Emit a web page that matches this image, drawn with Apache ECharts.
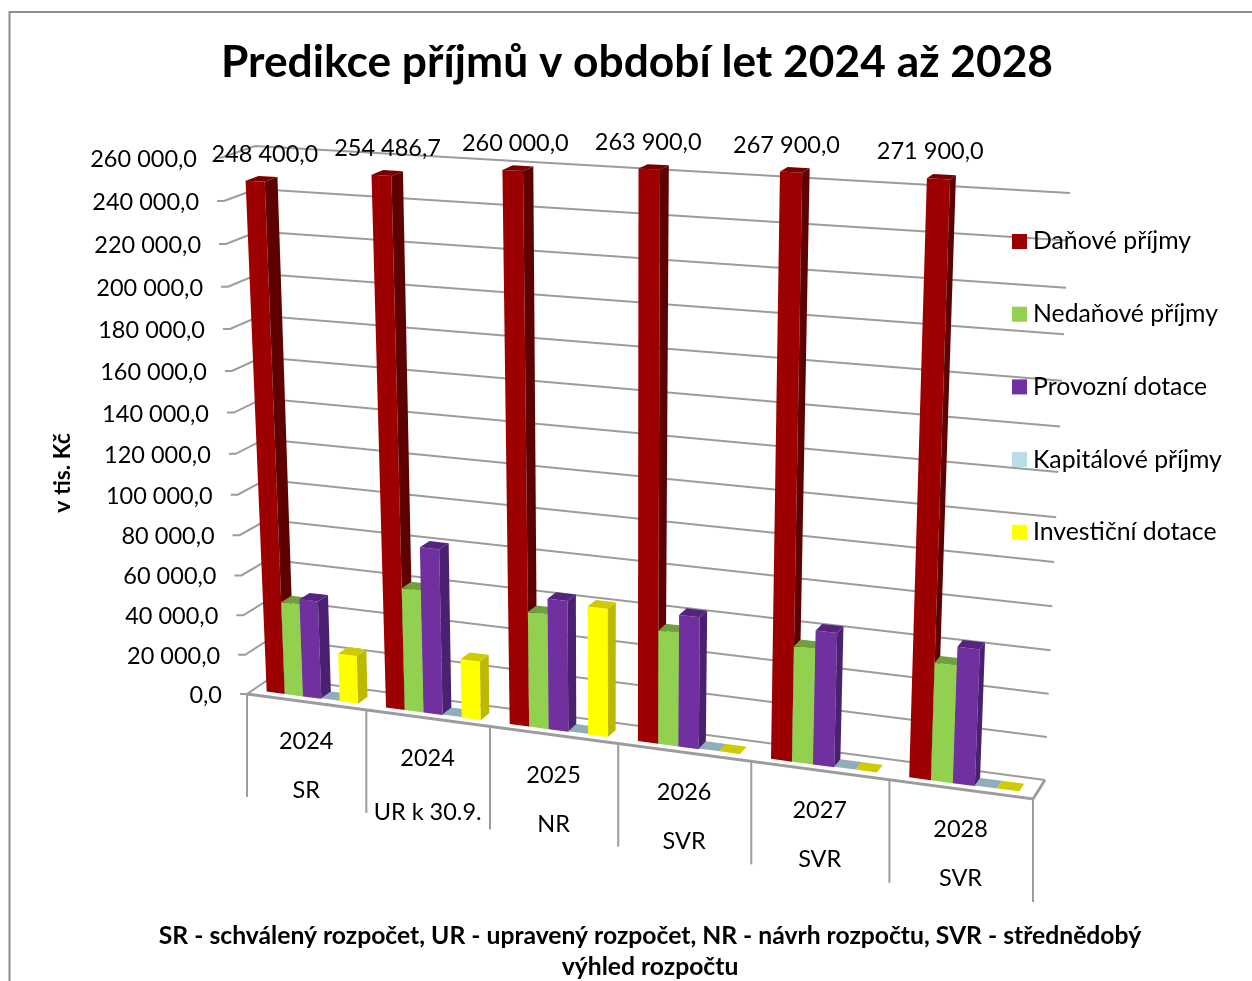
<!DOCTYPE html>
<html>
<head>
<meta charset="utf-8">
<style>
  html, body { margin: 0; padding: 0; background: #fff; }
  #chart { width: 1252px; height: 981px; }
</style>
<script src="https://cdn.jsdelivr.net/npm/echarts@6/dist/echarts.min.js"></script>
</head>
<body>
<div id="chart"></div>
<script>
const categories = ['2024', '2024', '2025', '2026', '2027', '2028']
const stages = ['SR', 'UR k 30.9.', 'NR', 'SVR', 'SVR', 'SVR']
const yTicks = [0, 20000, 40000, 60000, 80000, 100000, 120000, 140000, 160000, 180000, 200000, 220000, 240000, 260000]
const yTickLabels = ['0,0', '20 000,0', '40 000,0', '60 000,0', '80 000,0', '100 000,0', '120 000,0', '140 000,0', '160 000,0', '180 000,0', '200 000,0', '220 000,0', '240 000,0', '260 000,0']

// heights as the bars stand in the picture: the last two look lower than their printed labels
const danove = [248400, 254486.7, 260000, 263900, 266000, 266500]
const danoveLabels = ['248 400,0', '254 486,7', '260 000,0', '263 900,0', '267 900,0', '271 900,0']
const nedanove = [46500, 60500, 56000, 54500, 54500, 54500]
const provozni = [49000, 81500, 63500, 63000, 63000, 63000]
const kapitalove = [300, 300, 300, 300, 300, 300]
const investicni = [24000, 29000, 62000, 300, 300, 300]

const font = 'Lato'
const gridRect = { left: 247, top: 159, width: 786, height: 535 }

// corners of the 3D box on screen, F = front, B = back
const floorFL = [247, 694], floorFR = [1033, 799], floorBL = [272, 677], floorBR = [1045, 780]
const topFL = [222, 157.5], topFR = [1058, 204], topBL = [255, 146], topBR = [1070, 193]

const warp = (s, a) => s * a / (1 + (a - 1) * s)
const mix = (p, q, t) => [p[0] + (q[0] - p[0]) * t, p[1] + (q[1] - p[1]) * t]

// s: 0..1 along categories, depth: 0 front..1 back, w: 0..1 of the value axis
const project = (s, depth, w) => {
  const tx = warp(s, 0.895)
  const tw = warp(w, 0.946)
  const bottom = mix(mix(floorFL, floorFR, tx), mix(floorBL, floorBR, tx), depth)
  const top = mix(mix(topFL, topFR, tx), mix(topBL, topBR, tx), depth)
  return mix(bottom, top, tw)
}

// turn a pixel of the flat grid into the perspective picture
const fromGrid = (params, px, py, depth) => {
  const r = params.coordSys
  return project((px - r.x) / r.width, depth, 1 - (py - r.y) / r.height)
}

const barRender = (offset, colors, labels) => (params, api) => {
  const i = api.value(0)
  const top = api.coord([i, api.value(1)])
  const base = api.coord([i, 0])
  const band = api.size([1, 0])[0]
  const x0 = top[0] + band * (-0.385 + 0.154 * offset)
  const x1 = x0 + band * 0.154
  const d0 = 0.25, d1 = 0.65
  const a = fromGrid(params, x0, base[1], d0)
  const b = fromGrid(params, x1, base[1], d0)
  const c = fromGrid(params, x1, top[1], d0)
  const d = fromGrid(params, x0, top[1], d0)
  const e = fromGrid(params, x1, base[1], d1)
  const f = fromGrid(params, x1, top[1], d1)
  const g = fromGrid(params, x0, top[1], d1)
  const flat = api.value(1) < 1000
  const children = []
  if (!flat) {
    children.push({ type: 'polygon', shape: { points: [a, b, c, d] }, style: { fill: colors[0] } })
    children.push({ type: 'polygon', shape: { points: [b, e, f, c] }, style: { fill: colors[1] } })
  }
  children.push({ type: 'polygon', shape: { points: [d, c, f, g] }, style: { fill: colors[2] } })
  if (labels) {
    const s = (top[0] - params.coordSys.x) / params.coordSys.width
    children.push({
      type: 'text',
      style: {
        x: (d[0] + c[0]) / 2 + 11.5 - 21.5 * s,
        y: Math.min(d[1], g[1]) - 22,
        text: labels[i],
        align: 'center',
        verticalAlign: 'middle',
        font: '23.5px ' + font,
        fill: '#000'
      }
    })
  }
  return { type: 'group', children }
}

const gridRender = (params, api) => {
  const i = params.dataIndex
  const val = api.value(1)
  const p = api.coord([0, val])
  const r = params.coordSys
  const px0 = r.x
  const px1 = r.x + r.width
  const lineStyle = { stroke: '#9c9c9c', lineWidth: 2 }
  const front = fromGrid(params, px0, p[1], 0)
  const back = fromGrid(params, px0, p[1], 1)
  const right = fromGrid(params, px1, p[1], 1)
  return {
    type: 'group',
    children: [
      { type: 'polyline', shape: { points: [[front[0] - 7, front[1]], front, back, right] }, style: { ...lineStyle, fill: null } },
      {
        type: 'text',
        style: {
          x: front[0] - 25,
          y: front[1] + 1.5,
          text: yTickLabels[i],
          align: 'right',
          verticalAlign: 'middle',
          font: '23.5px ' + font,
          fill: '#000'
        }
      }
    ]
  }
}

const categoryRender = (params, api) => {
  const i = api.value(0)
  const c = api.coord([i, 0])
  const band = api.size([1, 0])[0]
  const r = params.coordSys
  const start = fromGrid(params, c[0] - band / 2, r.y + r.height, 0)
  const mid = fromGrid(params, c[0], r.y + r.height, 0)
  const stageDrop = stages[i].length > 3 ? 94 : 89
  const children = [
    { type: 'line', shape: { x1: start[0], y1: start[1], x2: start[0], y2: start[1] + 103 }, style: { stroke: '#9c9c9c', lineWidth: 2 } },
    { type: 'text', style: { x: mid[0], y: mid[1] + 40, text: categories[i], align: 'center', verticalAlign: 'middle', font: '23.5px ' + font, fill: '#000' } },
    { type: 'text', style: { x: mid[0], y: mid[1] + stageDrop, text: stages[i], align: 'center', verticalAlign: 'middle', font: '23.5px ' + font, fill: '#000' } }
  ]
  if (i === categories.length - 1) {
    const end = fromGrid(params, c[0] + band / 2, r.y + r.height, 0)
    children.push({ type: 'line', shape: { x1: end[0], y1: end[1], x2: end[0], y2: end[1] + 103 }, style: { stroke: '#9c9c9c', lineWidth: 2 } })
  }
  return { type: 'group', children }
}

const floorRender = (params) => {
  const r = params.coordSys
  const yb = r.y + r.height
  const a = fromGrid(params, r.x, yb, 0)
  const b = fromGrid(params, r.x + r.width, yb, 0)
  const c = fromGrid(params, r.x + r.width, yb, 1)
  return { type: 'polyline', shape: { points: [a, b, c] }, style: { stroke: '#9c9c9c', lineWidth: 2.8, fill: null } }
}

const barSeries = (name, values, offset, legendColor, colors, labels) => ({
  name,
  type: 'custom',
  silent: true,
  itemStyle: { color: legendColor },
  renderItem: barRender(offset, colors, labels),
  encode: { x: 0, y: 1 },
  data: values.map((v, i) => [i, v])
})

const chart = echarts.init(document.getElementById('chart'))
chart.setOption({
  backgroundColor: '#fff',
  animation: false,
  title: [
    {
      text: 'Predikce příjmů v období let 2024 až 2028',
      left: 632,
      top: 36,
      textAlign: 'center',
      textStyle: { fontFamily: font, fontWeight: 'bold', fontSize: 44.3, color: '#000' }
    },
    {
      text: 'SR - schválený rozpočet, UR - upravený rozpočet, NR - návrh rozpočtu, SVR - střednědobý\nvýhled rozpočtu',
      left: 645,
      top: 916,
      textAlign: 'center',
      textStyle: { fontFamily: font, fontWeight: 'bold', fontSize: 24.7, lineHeight: 31, color: '#000' }
    }
  ],
  legend: {
    orient: 'vertical',
    left: 1007,
    top: 224,
    icon: 'rect',
    itemWidth: 15,
    itemHeight: 15,
    itemGap: 47.7,
    selectedMode: false,
    textStyle: { fontFamily: font, fontSize: 24.8, color: '#000', padding: [0, 0, 0, 1] },
    data: ['Daňové příjmy', 'Nedaňové příjmy', 'Provozní dotace', 'Kapitálové příjmy', 'Investiční dotace']
  },
  grid: gridRect,
  xAxis: { type: 'category', data: categories.map((c, i) => c + ' ' + stages[i]), show: false },
  yAxis: { type: 'value', min: 0, max: 260000, interval: 20000, show: false },
  graphic: [
    { type: 'polyline', z: -1, shape: { points: [[9.5, 981], [9.5, 12], [1252, 12]] }, style: { stroke: '#8c8c8c', lineWidth: 2, fill: null } },
    {
      type: 'text',
      x: 63,
      y: 473,
      rotation: Math.PI / 2,
      style: { text: 'v tis. Kč', align: 'center', verticalAlign: 'middle', font: 'bold 23px ' + font, fill: '#000' }
    }
  ],
  series: [
    { type: 'custom', silent: true, renderItem: gridRender, encode: { x: 0, y: 1 }, data: yTicks.map(v => [0, v]) },
    { type: 'custom', silent: true, renderItem: categoryRender, encode: { x: 0, y: 1 }, data: categories.map((c, i) => [i, 0]) },
    { type: 'custom', silent: true, renderItem: floorRender, encode: { x: 0, y: 1 }, data: [[0, 0]] },
    barSeries('Daňové příjmy', danove, 0, '#990000', ['#9C0000', '#5E0000', '#7A0000'], danoveLabels),
    barSeries('Nedaňové příjmy', nedanove, 1, '#92D050', ['#92D050', '#6E9E3C', '#6FA03D'], null),
    barSeries('Provozní dotace', provozni, 2, '#7030A0', ['#7030A0', '#4A2070', '#562480'], null),
    barSeries('Kapitálové příjmy', kapitalove, 3, '#B7DEE8', ['#B7DEE8', '#8AA8B0', '#8FAEB9'], null),
    barSeries('Investiční dotace', investicni, 4, '#FFFF00', ['#FFFF00', '#BDB800', '#CFCB00'], null)
  ]
})
</script>
</body>
</html>
